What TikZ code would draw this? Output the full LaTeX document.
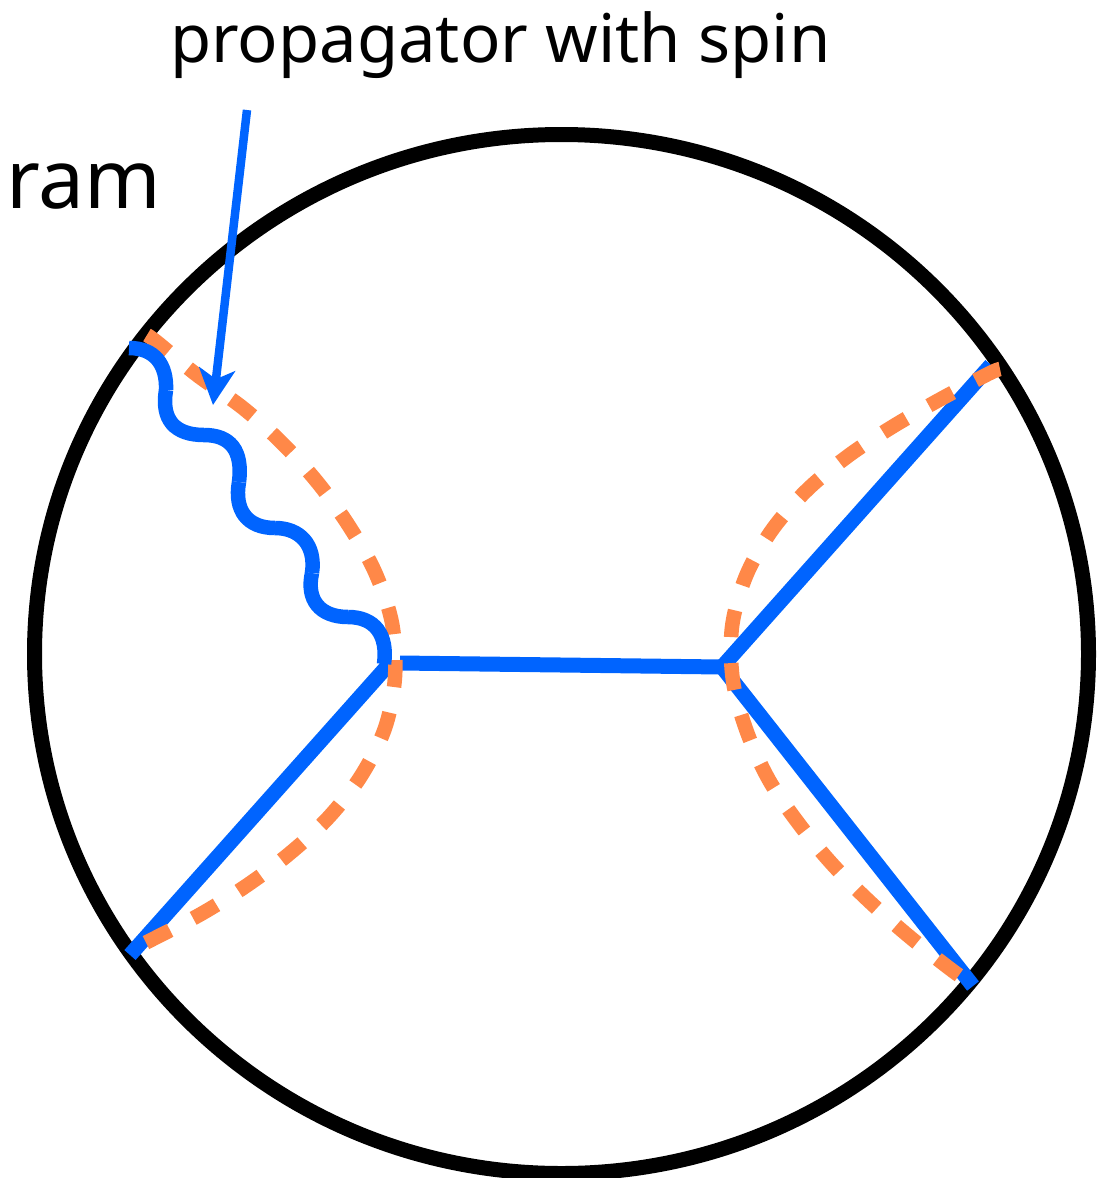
\documentclass[tikz,border=0pt]{standalone}
\usepackage{fontspec}
\setmainfont{Noto Sans}
\usetikzlibrary{arrows.meta}
\definecolor{bluel}{HTML}{0064FF}
\definecolor{orangel}{HTML}{FF8848}
\tikzset{
  blueline/.style={draw=bluel,line width=15pt},
  orangeline/.style={draw=orangel,line width=14.5pt,dash pattern=on 27pt off 26pt},
  wave/.style={draw=bluel,line width=14.5pt},
  pointer/.style={draw=bluel,line width=8.5pt,-{Stealth[length=36pt,width=36pt,inset=10pt]}},
  lab/.style={inner sep=0pt,anchor=base west,text=black}
}
\begin{document}
\begin{tikzpicture}[x=1pt,y=-1pt]
\useasboundingbox (0,0) rectangle (1112,1178);
\draw[line width=15pt] (561.5,654) ellipse [x radius=527,y radius=519.5];
\node[lab,font=\fontsize{67}{72}\selectfont] (title) at (170,62) {propagator with spin};
\node[lab,font=\fontsize{82}{88}\selectfont] (ram) at (6,208) {ram};
\coordinate (V1) at (391,662);
\coordinate (H1) at (400,663);
\coordinate (V2) at (722,667);
\coordinate (TL) at (129,348);
\coordinate (BL) at (130,955);
\coordinate (TR) at (991,365);
\coordinate (BR) at (973,986);
\draw[blueline] (BL) -- (V1);
\draw[blueline] (H1) -- (V2);
\draw[blueline] (V2) -- (TR);
\draw[blueline] (V2) -- (BR);
\draw[orangeline] plot[smooth,tension=0.55] coordinates {(147,335) (158,343) (197,375) (243,408) (282,443) (318,483) (349,526) (375,572) (392,623) (395,677) (385,728) (361,776) (328,818) (289,854) (246,886) (201,914) (153,939) (135,948)};
\draw[orangeline] plot[smooth,tension=0.55] coordinates {(1000,369) (988,374) (939,400) (892,427) (848,456) (807,490) (772,530) (746,576) (732,627) (733,681) (747,732) (769,780) (799,824) (833,865) (871,903) (911,938) (953,971) (968,981)};
\draw[wave] (TL) .. controls (155,348) and (167,365) .. (166,390);
\draw[wave] (166,390) .. controls (161,420) and (175,435) .. (204,435);
\draw[wave] (204,435) .. controls (230,435) and (243,450) .. (239,482);
\draw[wave] (239,482) .. controls (234,510) and (247,528) .. (275,528);
\draw[wave] (275,528) .. controls (300,528) and (316,545) .. (312,573);
\draw[wave] (312,573) .. controls (306,600) and (320,617) .. (348,617);
\draw[wave] (348,617) .. controls (375,617) and (388,635) .. (384,664);
\coordinate (A0) at (247,110);
\coordinate (A1) at (213,405);
\draw[pointer] (A0) -- (A1);
\end{tikzpicture}
\end{document}
